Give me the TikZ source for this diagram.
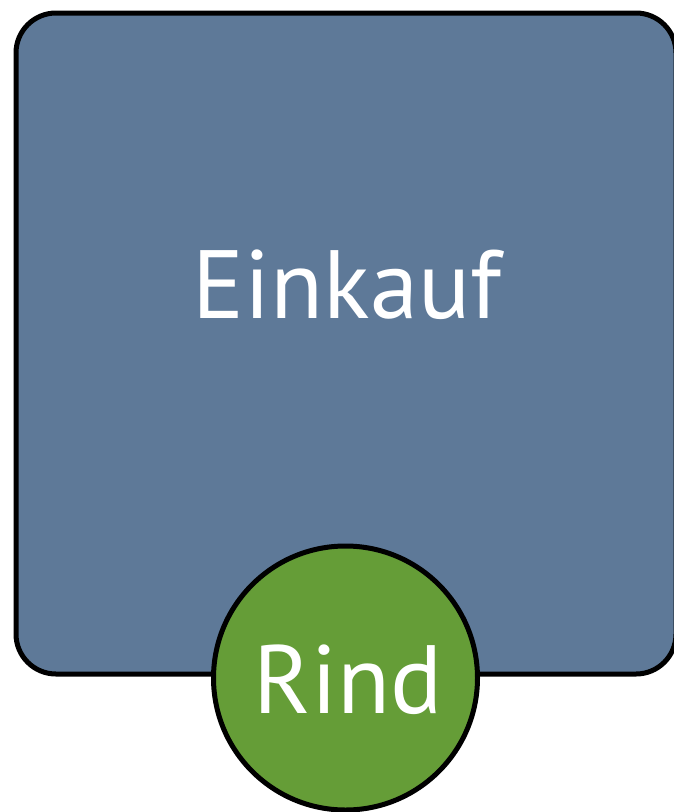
\documentclass[tikz,border=0pt]{standalone}
\usepackage{fontspec}
\setmainfont{PT Sans}
\definecolor{boxblue}{RGB}{94,121,152}
\definecolor{rindgreen}{RGB}{101,157,55}
\tikzset{
  frame/.style={draw=black, line width=5pt},
  lbl/.style={text=white, font=\fontsize{97}{100}\selectfont, anchor=base, inner sep=0pt}
}
\begin{document}
\begin{tikzpicture}[x=1pt,y=-1pt]
\useasboundingbox (0,0) rectangle (673,812);
\node[frame, fill=boxblue, rounded corners=40pt, minimum width=660pt, minimum height=661pt, inner sep=0pt] (box) at (346,343.5) {};
\node[lbl] (einkauf) at (347,318) {Einkauf};
\node[frame, fill=rindgreen, circle, minimum size=264pt, inner sep=0pt] (rind) at (345.5,678) {};
\node[lbl] (rindtext) at (348,713) {Rind};
\end{tikzpicture}
\end{document}
